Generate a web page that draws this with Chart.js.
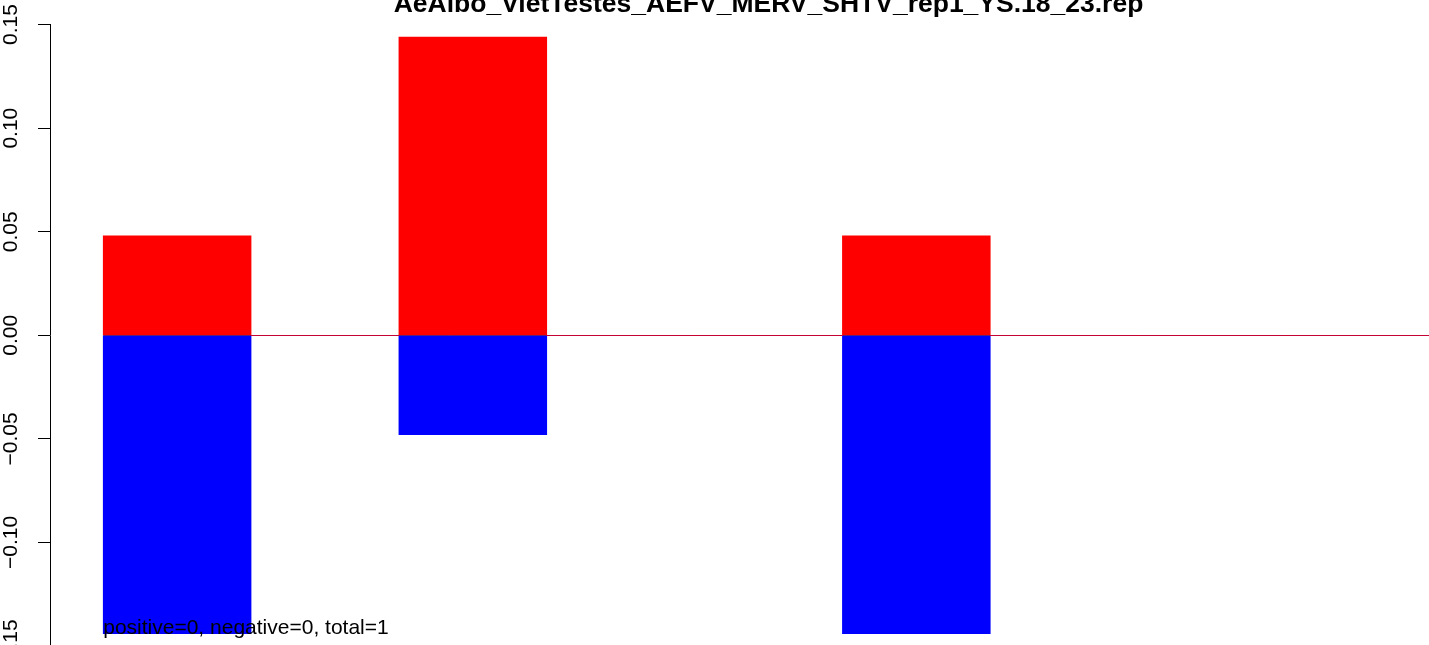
<!DOCTYPE html>
<html>
<head>
<meta charset="utf-8">
<script src="https://cdn.jsdelivr.net/npm/chart.js@4.4.1/dist/chart.umd.min.js"></script>
<style>
  html, body { margin: 0; padding: 0; width: 1429px; height: 645px; overflow: hidden; background: #ffffff; }
  #wrap { position: absolute; left: 0; top: -13px; width: 1487px; height: 679px; }
  canvas { display: block; }
</style>
</head>
<body>
<div id="wrap"><canvas id="c" width="1487" height="679"></canvas></div>
<script>
// ---- data ----
const chartTitle = 'AeAlbo_VietTestes_AEFV_MERV_SHTV_rep1_YS.18_23.rep';
const slots = [1, 2, 3, 4, 5, 6, 7, 8, 9];
const positiveValues = [0.048, 0, 0.144, 0, 0, 0.048, 0, 0, 0];
const negativeValues = [-0.144, 0, -0.048, 0, 0, -0.144, 0, 0, 0];
const yTicks = [-0.15, -0.10, -0.05, 0.00, 0.05, 0.10, 0.15];
const yTickLabels = ['\u22120.15', '\u22120.10', '\u22120.05', '0.00', '0.05', '0.10', '0.15'];
const summaryText = 'positive=0, negative=0, total=1';

Chart.defaults.font.family = '"Liberation Sans", Arial, Helvetica, sans-serif';
Chart.defaults.color = '#000000';

const zeroLinePlugin = {
  id: 'zeroLine',
  beforeDatasetsDraw(chart) {
    const ctx = chart.ctx;
    const y = chart.scales.y.getPixelForValue(0);
    const bar = chart.getDatasetMeta(0).data[0];
    const x0 = bar.x - bar.width / 2;
    ctx.save();
    ctx.strokeStyle = '#4d4d4d';
    ctx.lineWidth = 1;
    ctx.beginPath();
    ctx.moveTo(x0, Math.floor(y) + 0.5);
    ctx.lineTo(chart.chartArea.right, Math.floor(y) + 0.5);
    ctx.stroke();
    ctx.restore();
  }
};

const summaryPlugin = {
  id: 'summaryText',
  afterDatasetsDraw(chart) {
    const ctx = chart.ctx;
    const bar = chart.getDatasetMeta(0).data[0];
    const x0 = bar.x - bar.width / 2;
    const y = chart.scales.y.getPixelForValue(Math.min(...negativeValues));
    ctx.save();
    ctx.font = '21px "Liberation Sans", Arial, sans-serif';
    ctx.fillStyle = '#000000';
    ctx.textAlign = 'left';
    ctx.textBaseline = 'alphabetic';
    ctx.fillText(summaryText, x0, y);
    ctx.restore();
  }
};

new Chart(document.getElementById('c'), {
  type: 'bar',
  data: {
    datasets: [
      {
        label: 'positive',
        data: slots.map((s, i) => ({ x: s, y: positiveValues[i] })),
        backgroundColor: '#ff0000',
        borderWidth: 0
      },
      {
        label: 'negative',
        data: slots.map((s, i) => ({ x: s, y: negativeValues[i] })),
        backgroundColor: '#0000ff',
        borderWidth: 0
      }
    ]
  },
  options: {
    responsive: false,
    animation: false,
    maintainAspectRatio: false,
    layout: { padding: { left: 0, right: 0, top: 0, bottom: 20 } },
    datasets: { bar: { barPercentage: 1, categoryPercentage: 1 } },
    plugins: {
      legend: { display: false },
      tooltip: { enabled: false },
      title: {
        display: true,
        text: chartTitle,
        fullSize: false,
        align: 'center',
        color: '#000000',
        font: { size: 26.5, weight: 'bold', lineHeight: 1.2 },
        padding: { top: 1.5, bottom: 4.3 }
      }
    },
    scales: {
      x: {
        type: 'linear',
        min: 0.14,
        max: 9.86,
        offset: false,
        stacked: true,
        display: false,
        afterBuildTicks(scale) { scale.ticks = slots.map(v => ({ value: v })); }
      },
      y: {
        min: -0.15,
        max: 0.15,
        stacked: true,
        afterBuildTicks(scale) { scale.ticks = yTicks.map(v => ({ value: v })); },
        afterFit(scale) { scale.width = 50; },
        border: { display: true, color: '#000000', width: 1 },
        grid: { drawOnChartArea: false, drawTicks: true, tickLength: 12, tickColor: '#000000', tickWidth: 1 },
        ticks: {
          autoSkip: false,
          minRotation: 90,
          maxRotation: 90,
          crossAlign: 'center',
          padding: 0,
          color: '#000000',
          font: { size: 21 },
          callback: (v, i) => yTickLabels[i]
        }
      }
    }
  },
  plugins: [zeroLinePlugin, summaryPlugin]
});
</script>
</body>
</html>
